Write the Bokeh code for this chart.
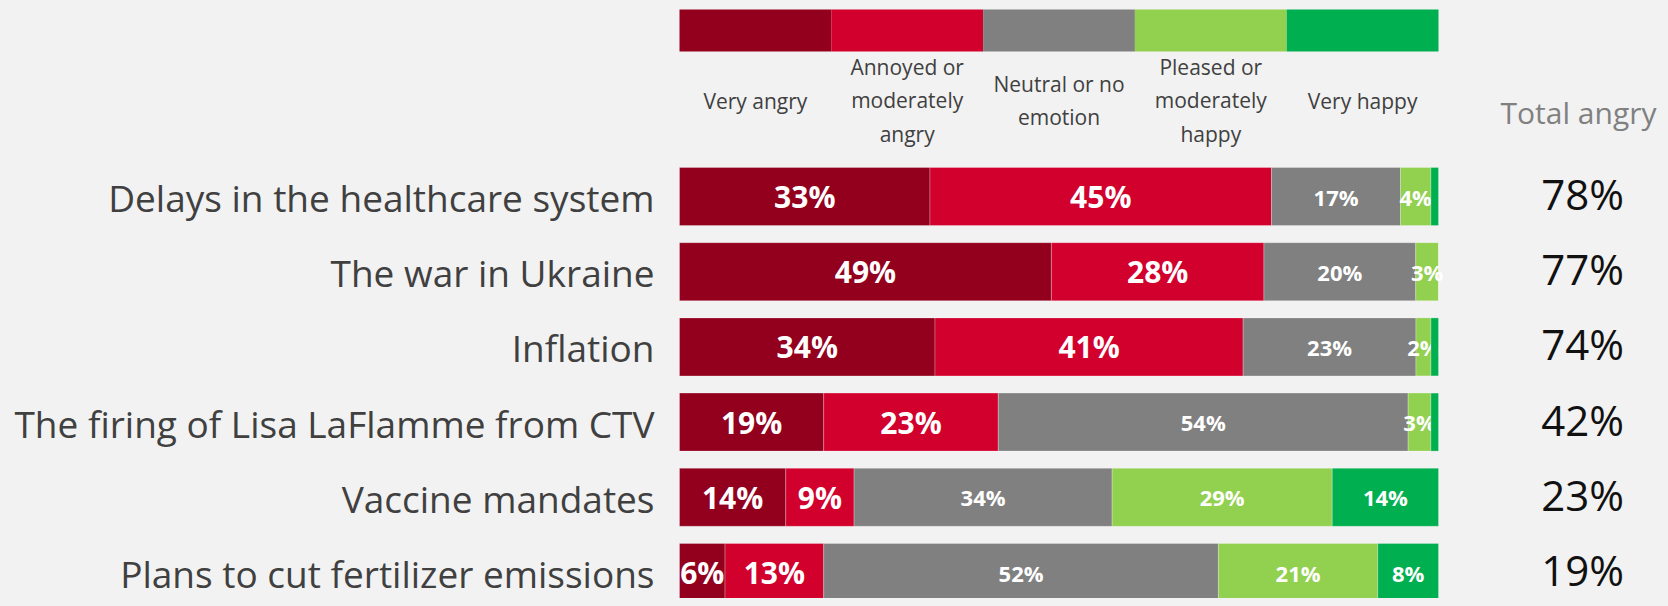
from bokeh.plotting import figure
from bokeh.models import ColumnDataSource, Range1d
from bokeh.core.properties import value
from bokeh.embed import file_html
from bokeh.resources import INLINE

# ---------------- data ----------------
categories = [
    "Delays in the healthcare system",
    "The war in Ukraine",
    "Inflation",
    "The firing of Lisa LaFlamme from CTV",
    "Vaccine mandates",
    "Plans to cut fertilizer emissions",
]
very_angry = [33, 49, 34, 19, 14, 6]
annoyed = [45, 28, 41, 23, 9, 13]
neutral = [17, 20, 23, 54, 34, 52]
pleased = [4, 3, 2, 3, 29, 21]
very_happy = [1, 0, 1, 1, 14, 8]
total_angry = [78, 77, 74, 42, 23, 19]

series_names = ["Very angry", "Annoyed or\nmoderately\nangry", "Neutral or no\nemotion",
                "Pleased or\nmoderately\nhappy", "Very happy"]
series_colors = ["#93001E", "#D2002D", "#808080", "#92D050", "#00B050"]
series_big = [True, True, False, False, False]
total_header = "Total angry"

# ---------------- layout (pixels) ----------------
W, H = 1660, 598          # figure size
BAR_L, BAR_R = 679, 1438
ROW0_C, PITCH, BAR_H = 196.0, 75.2, 58
SX = (BAR_R - BAR_L) / 100.0


def dx(px):
    return (px - BAR_L) / SX


def dy(py):
    return (py - ROW0_C) / PITCH


BG = "#F2F2F2"
p = figure(width=W, height=H, output_backend="svg", toolbar_location=None,
           x_range=Range1d(dx(0), dx(W)),
           y_range=Range1d(dy(H), dy(0)),
           min_border=0, background_fill_color=BG, border_fill_color=BG,
           outline_line_color=None)
p.axis.visible = False
p.xgrid.visible = False
p.ygrid.visible = False

series = [very_angry, annoyed, neutral, pleased, very_happy]
n = len(categories)
rows = list(range(n))
totals = [sum(s[i] for s in series) for i in range(n)]

cum = [0.0] * n
for k, vals in enumerate(series):
    left = [cum[i] for i in range(n)]
    right = [cum[i] + vals[i] * 100.0 / totals[i] for i in range(n)]
    cum = right
    src = ColumnDataSource(dict(y=rows, left=left, right=right,
                                mid=[(l + r) / 2 for l, r in zip(left, right)],
                                txt=[f"{v}%" if v >= 2 else "" for v in vals]))
    p.hbar(y="y", left="left", right="right", height=BAR_H / PITCH, source=src,
           fill_color=series_colors[k], line_color="#FFFFFF", line_alpha=0.25, line_width=1)
    p.text(x="mid", y="y", text="txt", source=src, text_color="white",
           text_font=value("Open Sans"), text_font_style="bold",
           text_font_size="30px" if series_big[k] else "22px",
           text_align="center", text_baseline="middle")

# legend swatches and labels
m = len(series_names)
leg = ColumnDataSource(dict(
    left=[i * 100.0 / m for i in range(m)],
    right=[(i + 1) * 100.0 / m for i in range(m)],
    mid=[(i + 0.5) * 100.0 / m for i in range(m)],
    color=series_colors, name=series_names))
p.quad(left="left", right="right", top=dy(9), bottom=dy(51), fill_color="color",
       line_color=None, source=leg)
p.text(x="mid", y=dy(100), text="name", source=leg, text_color="#404040",
       text_font=value("Open Sans"), text_font_size="21px", text_line_height=1.2,
       text_align="center", text_baseline="middle")

# category labels
cat_src = ColumnDataSource(dict(y_lab=[r + 1.0 / PITCH for r in rows],
                                y_tot=[r - 3.0 / PITCH for r in rows],
                                name=categories,
                                tot=[f"{t}%" for t in total_angry]))
p.text(x=dx(654), y="y_lab", text="name", source=cat_src, text_color="#404040",
       text_font=value("Open Sans"), text_font_size="37px",
       text_align="right", text_baseline="middle")

# total angry column
p.text(x=[dx(1578)], y=[dy(112)], text=[total_header], text_color="#808080",
       text_font=value("Open Sans"), text_font_size="30px",
       text_align="center", text_baseline="middle")
p.text(x=dx(1582), y="y_tot", text="tot", source=cat_src, text_color="#111111",
       text_font=value("Open Sans"), text_font_size="42px",
       text_align="center", text_baseline="middle")

html = file_html(p, INLINE)
html = html.replace("<head>", "<head><style>body{background:%s;}</style>" % BG, 1)
open("out.html", "w").write(html)
